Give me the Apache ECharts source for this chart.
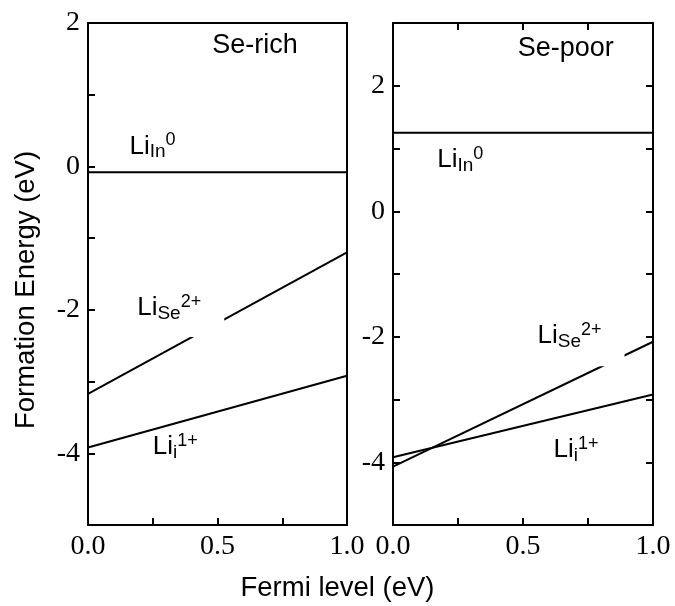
<!DOCTYPE html>
<html>
<head>
<meta charset="utf-8">
<script src="https://cdn.jsdelivr.net/npm/echarts@6/dist/echarts.min.js"></script>
<style>html,body{margin:0;padding:0;background:#fff}#c{width:675px;height:606px}</style>
</head>
<body>
<div id="c"></div>
<script>
// Fermi level endpoints (eV)
const fermi = [0, 1];
// Se-rich panel formation energies (eV)
const richLiIn = [-0.08, -0.08];
const richLiSe = [-3.17, -1.20];
const richLii = [-3.92, -2.92];
// Se-poor panel formation energies (eV)
const poorLiIn = [1.25, 1.25];
const poorLiSe = [-4.07, -2.08];
const poorLii = [-3.92, -2.92];
// annotation texts and anchor points [text, x, y]
const richLabels = [
  ['{t|Se-rich}', 0.48, 1.68],
  ['{b|Li}{sub|In}{sup|0}', 0.16, 0.28],
  ['{b|Li}{sub|Se}{sup|2+}', 0.19, -2.07],
  ['{b|Li}{sub|i}{sup|1+}', 0.25, -3.91]
];
const poorLabels = [
  ['{t|Se-poor}', 0.48, 2.59],
  ['{b|Li}{sub|In}{sup|0}', 0.17, 0.82],
  ['{b|Li}{sub|Se}{sup|2+}', 0.556, -2.11],
  ['{b|Li}{sub|i}{sup|1+}', 0.617, -3.81]
];
const xTickLabels = ['0.0', '0.5', '1.0'];

const sans = 'Liberation Sans, Arial, sans-serif';
const serif = 'Liberation Serif, Times New Roman, serif';
const rich = {
  t: {fontSize: 27, fontFamily: sans, color: '#000', lineHeight: 30},
  b: {fontSize: 26, fontFamily: sans, color: '#000', lineHeight: 30},
  sub: {fontSize: 19, fontFamily: sans, color: '#000', lineHeight: 19, verticalAlign: 'bottom'},
  sup: {fontSize: 18, fontFamily: sans, color: '#000', lineHeight: 18, verticalAlign: 'top'}
};

function xAxisCfg(gi, showLabels, showTicks, pos) {
  return {
    type: 'value', gridIndex: gi, min: 0, max: 1, interval: 0.25, position: pos,
    axisLine: {show: true, onZero: false, lineStyle: {color: '#000', width: 2}},
    axisTick: {show: showTicks, inside: true, length: 7, lineStyle: {color: '#000', width: 2}},
    axisLabel: {show: showLabels, margin: 8, color: '#000', fontSize: 28, fontFamily: serif,
      formatter: v => {
        const i = [0, 0.5, 1].indexOf(Math.round(v * 100) / 100);
        return i >= 0 ? xTickLabels[i] : '';
      }},
    splitLine: {show: false}
  };
}
function yAxisCfg(gi, min, max, showLabels, showTicks, pos, name) {
  return {
    type: 'value', gridIndex: gi, min: min, max: max, interval: 1, position: pos,
    name: name || '', nameLocation: 'middle', nameGap: 48,
    nameTextStyle: {fontSize: 27.5, fontFamily: sans, color: '#000', padding: [0, 32, 0, 0]},
    axisLine: {show: true, onZero: false, lineStyle: {color: '#000', width: 2}},
    axisTick: {show: showTicks, inside: true, length: 7, lineStyle: {color: '#000', width: 2}},
    axisLabel: {show: showLabels, margin: 8, color: '#000', fontSize: 28, fontFamily: serif,
      formatter: v => (Math.round(v) % 2 === 0 ? String(v) : '')},
    splitLine: {show: false}
  };
}
function lineSeries(xi, yi, ys) {
  return {
    type: 'line', xAxisIndex: xi, yAxisIndex: yi, data: fermi.map((x, i) => [x, ys[i]]),
    symbol: 'none', lineStyle: {color: '#000', width: 2}, silent: true, animation: false
  };
}
function labelSeries(xi, yi, labels) {
  return {
    type: 'scatter', xAxisIndex: xi, yAxisIndex: yi, symbolSize: 0, silent: true, animation: false, z: 10,
    itemStyle: {opacity: 1},
    data: labels.map(l => {
      const item = {value: [l[1], l[2]], name: l[0]};
      if (l[0].indexOf('Se}') >= 0) {
        item.label = {backgroundColor: '#fff', padding: xi === 0 ? [0, 23, 14, 0] : [0, 23, 15, 0]};
      }
      return item;
    }),
    label: {show: true, position: 'right', distance: 0, formatter: p => p.name, rich: rich}
  };
}

const chart = echarts.init(document.getElementById('c'));
chart.setOption({
  backgroundColor: '#fff',
  animation: false,
  title: {text: 'Fermi level (eV)', left: 'center', top: 574, padding: 0,
    textStyle: {fontSize: 27.5, fontWeight: 'normal', fontFamily: sans, color: '#000'}},
  grid: [
    {left: 88, right: 328, top: 23, bottom: 81, containLabel: false},
    {left: 393, right: 22, top: 23, bottom: 81, containLabel: false}
  ],
  xAxis: [
    xAxisCfg(0, true, true, 'bottom'),
    xAxisCfg(0, false, false, 'top'),
    xAxisCfg(1, true, true, 'bottom'),
    xAxisCfg(1, false, true, 'top')
  ],
  yAxis: [
    yAxisCfg(0, -5, 2, true, true, 'left', 'Formation Energy (eV)'),
    yAxisCfg(0, -5, 2, false, false, 'right'),
    yAxisCfg(1, -5, 3, true, true, 'left'),
    yAxisCfg(1, -5, 3, false, true, 'right')
  ],
  series: [
    lineSeries(0, 0, richLiIn),
    lineSeries(0, 0, richLiSe),
    lineSeries(0, 0, richLii),
    lineSeries(2, 2, poorLiIn),
    lineSeries(2, 2, poorLiSe),
    lineSeries(2, 2, poorLii),
    labelSeries(0, 0, richLabels),
    labelSeries(2, 2, poorLabels)
  ]
});
</script>
</body>
</html>
